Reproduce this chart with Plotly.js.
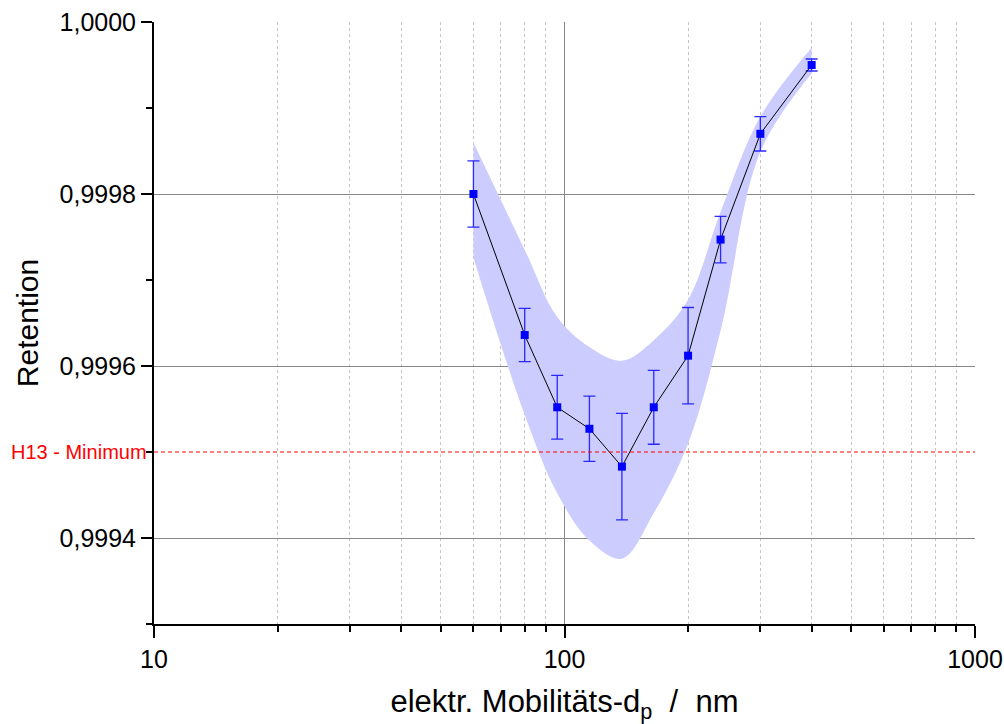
<!DOCTYPE html>
<html>
<head>
<meta charset="utf-8">
<script src="https://cdn.plot.ly/plotly-3.0.1.min.js"></script>
<style>html,body{margin:0;padding:0;background:#fff;}#chart{width:1004px;height:724px;}</style>
</head>
<body>
<div id="chart"></div>
<script>
// Data
const diameter = [60, 80, 96, 115, 138, 165, 200, 240, 300, 400];
const retention = [0.99980, 0.999636, 0.999552, 0.999527, 0.999483, 0.999552, 0.999612, 0.999747, 0.99987, 0.99995];
const retentionErr = [0.0000385, 0.000031, 0.000037, 0.000038, 0.000062, 0.000043, 0.000056, 0.000027, 0.00002, 0.000007];
const bandUpper = [0.99986, 0.999735, 0.999657, 0.999622, 0.999606, 0.99963, 0.999677, 0.999779, 0.99989, 0.99997];
const bandLower = [0.999726, 0.999543, 0.999452, 0.999397, 0.999376, 0.999429, 0.99951, 0.999641, 0.999849, 0.99994];
const h13Minimum = 0.9995;
const yTickVals = [0.9994, 0.9996, 0.9998, 1.0000];

const font = 'Liberation Sans, Arial, sans-serif';

const traces = [
  {x: diameter, y: bandLower, mode: 'lines', line: {width: 0, shape: 'spline', smoothing: 1}, hoverinfo: 'skip', showlegend: false},
  {x: diameter, y: bandUpper, mode: 'lines', fill: 'tonexty', fillcolor: 'rgba(204,204,255,1)', line: {width: 0, shape: 'spline', smoothing: 1}, hoverinfo: 'skip', showlegend: false},
  {x: diameter, y: retention, mode: 'lines+markers', line: {color: '#000', width: 1},
   marker: {symbol: 'square', size: 8, color: '#0000ff'},
   error_y: {type: 'data', array: retentionErr, visible: true, color: 'rgb(40,40,255)', thickness: 1.3, width: 6},
   showlegend: false}
];

const layout = {
  width: 1004, height: 724,
  margin: {l: 154, r: 29, t: 22, b: 100},
  paper_bgcolor: '#fff', plot_bgcolor: '#fff',
  separators: ',.',
  showlegend: false,
  font: {family: font, color: '#000'},
  xaxis: {
    type: 'log', range: [1, 3], dtick: 1,
    showline: true, linecolor: '#000', linewidth: 2,
    ticks: 'outside', ticklen: 12, tickwidth: 2, tickcolor: '#000',
    tickfont: {size: 25, family: font},
    showgrid: true, gridcolor: '#888', gridwidth: 1,
    minor: {dtick: 'D1', ticks: 'outside', ticklen: 6, tickwidth: 2, tickcolor: '#000', showgrid: true, gridcolor: '#c4c4c4', griddash: 'dot', gridwidth: 1},
    zeroline: false,
    title: {text: 'elektr. Mobilitäts-d<sub>p</sub>&nbsp; /&nbsp; nm', font: {size: 31, family: font}, standoff: 20}
  },
  yaxis: {
    range: [0.9993, 1.0000],
    tickvals: yTickVals, tickformat: '.4f',
    showline: true, linecolor: '#000', linewidth: 2,
    ticks: 'outside', ticklen: 11, tickwidth: 2, tickcolor: '#000',
    tickfont: {size: 25, family: font},
    showgrid: true, gridcolor: '#888', gridwidth: 1,
    minor: {dtick: 0.0001, tick0: 0.9993, ticks: 'outside', ticklen: 6, tickwidth: 2, tickcolor: '#000', showgrid: false},
    zeroline: false,
    title: {text: 'Retention', font: {size: 30, family: font}, standoff: 12}
  },
  shapes: [
    {type: 'line', xref: 'paper', x0: 0, x1: 1, yref: 'y', y0: h13Minimum, y1: h13Minimum, line: {color: '#ff0000', width: 1, dash: '4px,3px'}}
  ],
  annotations: [
    {xref: 'paper', x: 0, xanchor: 'right', xshift: -5, yref: 'y', y: h13Minimum, yanchor: 'middle', text: 'H13 - Minimum', showarrow: false, font: {size: 20, color: '#ff0000', family: font}}
  ]
};

Plotly.newPlot('chart', traces, layout, {displayModeBar: false, staticPlot: true});
</script>
</body>
</html>
